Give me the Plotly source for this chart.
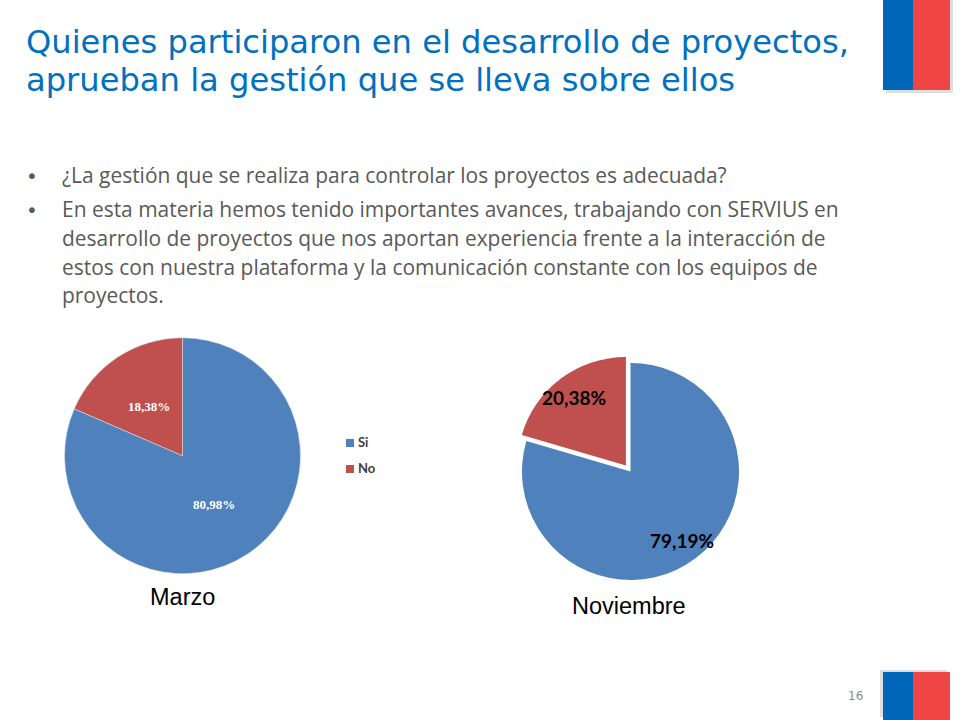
import plotly.graph_objects as go

categorias = ["Si", "No"]
valores_marzo = [80.98, 18.38]
valores_noviembre = [79.19, 20.38]
colores = ["#4F81BD", "#C0504D"]

titulo = ["Quienes participaron en el desarrollo de proyectos,",
          "aprueban la gestión que se lleva sobre ellos"]
lineas_texto = ["¿La gestión que se realiza para controlar los proyectos es adecuada?",
                "En esta materia hemos tenido importantes avances, trabajando con SERVIUS en",
                "desarrollo de proyectos que nos aportan experiencia frente a la interacción de",
                "estos con nuestra plataforma y la comunicación constante con los equipos de",
                "proyectos."]

W, H = 960, 720


def px(x):
    return x / W


def py(y):
    return 1 - y / H


def etiqueta(v):
    return f"{v:.2f}".replace(".", ",") + "%"


def texto(x, y, s, size, color, family, anchor="left"):
    return dict(x=px(x), y=py(y), xref="paper", yref="paper", text=s, showarrow=False,
                xanchor=anchor, yanchor="middle", align=anchor,
                font=dict(size=size, color=color, family=family))


def rect(x0, y0, x1, y1, color):
    return dict(type="rect", xref="paper", yref="paper", x0=px(x0), x1=px(x1),
                y0=py(y1), y1=py(y0), fillcolor=color, line=dict(width=0), layer="below")


fig = go.Figure()

# pie izquierdo, marzo
fig.add_trace(go.Pie(
    labels=categorias, values=valores_marzo, sort=False, direction="clockwise", rotation=0,
    marker=dict(colors=colores, line=dict(color="#E4E9F2", width=0.5)),
    textinfo="none", hoverinfo="label+percent", showlegend=False,
    domain=dict(x=[px(182.5 - 118), px(182.5 + 118)], y=[py(455.7 + 118), py(455.7 - 118)]),
))

# pie derecho, noviembre, con la porcion No separada
pull = 0.07
lado = 108.5 * (1 + pull)
fig.add_trace(go.Pie(
    labels=categorias, values=valores_noviembre, sort=False, direction="clockwise", rotation=0,
    pull=[0, pull], marker=dict(colors=colores),
    textinfo="none", hoverinfo="label+percent", showlegend=False,
    domain=dict(x=[px(630.5 - lado), px(630.5 + lado)], y=[py(471.5 + lado), py(471.5 - lado)]),
))

sans = "DejaVu Sans"
cuerpo = "Open Sans"
lato = "Lato"
gris = "#595959"

anotaciones = [
    texto(24, 42, titulo[0], 32.15, "#0070C0", sans),
    texto(24, 80, titulo[1], 32.15, "#0070C0", sans),
    texto(24, 176, "•", 20, gris, sans),
    texto(24, 210, "•", 20, gris, sans),
    texto(60, 175, lineas_texto[0], 20.95, gris, cuerpo),
    texto(60, 209, lineas_texto[1], 20.95, gris, cuerpo),
    texto(60, 238, lineas_texto[2], 20.95, gris, cuerpo),
    texto(60, 267, lineas_texto[3], 20.95, gris, cuerpo),
    texto(60, 295, lineas_texto[4], 20.95, gris, cuerpo),
    texto(149, 406, "<b>" + etiqueta(valores_marzo[1]) + "</b>", 13, "white", "Liberation Serif", "center"),
    texto(214, 505, "<b>" + etiqueta(valores_marzo[0]) + "</b>", 13, "white", "Liberation Serif", "center"),
    texto(574, 397, "<b>" + etiqueta(valores_noviembre[1]) + "</b>", 19, "black", lato, "center"),
    texto(682, 540, "<b>" + etiqueta(valores_noviembre[0]) + "</b>", 19, "black", lato, "center"),
    texto(356, 442, "<b>" + categorias[0] + "</b>", 13, "#404040", lato),
    texto(356, 468, "<b>" + categorias[1] + "</b>", 13, "#404040", lato),
    texto(182, 597, "Marzo", 23.5, "black", "Liberation Sans", "center"),
    texto(629, 606, "Noviembre", 23.5, "black", "Liberation Sans", "center"),
    texto(855, 696, "16", 12, "#8B8B8B", sans, "center"),
]

formas = [
    # leyenda
    rect(346, 439, 354, 447, colores[0]),
    rect(346, 465, 354, 473, colores[1]),
    # bandera de arriba
    rect(886, 0, 953, 93, "#DEDEDE"),
    rect(883, 0, 913, 90, "#0066B8"),
    rect(913, 0, 950, 90, "#F04545"),
    # bandera de abajo
    rect(880, 670, 947, 717, "#DEDEDE"),
    rect(883, 672, 913, 720, "#0066B8"),
    rect(913, 672, 950, 720, "#F04545"),
]

fig.update_layout(
    width=W, height=H, autosize=False,
    margin=dict(l=0, r=0, t=0, b=0),
    paper_bgcolor="white", plot_bgcolor="white",
    annotations=anotaciones, shapes=formas,
)

# la pagina trae margen de 8px en el body
fig.write_html("out.html", config={"displayModeBar": False},
               post_script="document.body.style.margin = '0';")
